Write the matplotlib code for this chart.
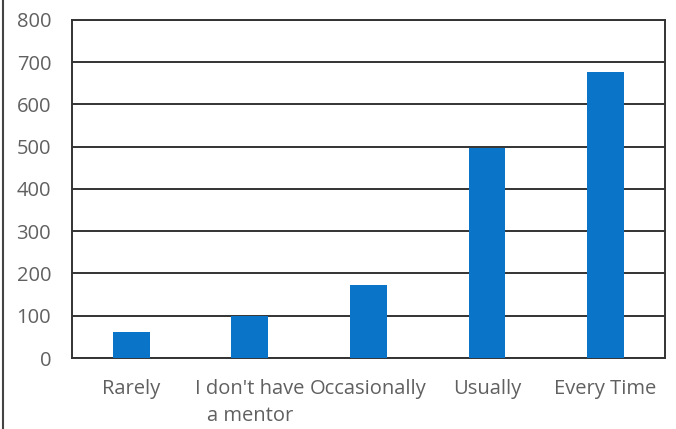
import matplotlib.pyplot as plt
import numpy as np

categories = ["Rarely", "I don't have\na mentor", "Occasionally", "Usually", "Every Time"]
counts = [62, 100, 172, 497, 676]
y_ticks = [0, 100, 200, 300, 400, 500, 600, 700, 800]

plt.rcParams['font.family'] = ['Open Sans', 'DejaVu Sans']

fig = plt.figure(figsize=(6.76, 4.29), dpi=100)
ax = fig.add_axes([0.1065, 0.1655, 0.877, 0.788])

x = np.arange(len(categories))
ax.bar(x, counts, width=0.31, color="#0a74c8", zorder=3)

ax.set_xlim(-0.5, len(categories) - 0.5)
ax.set_ylim(0, 800)
ax.set_yticks(y_ticks)
ax.set_xticks(x)
ax.set_xticklabels(categories, linespacing=1.5)

# dark horizontal gridlines, like the printed chart
ax.grid(axis="y", color="#333333", linewidth=1.4, zorder=0)
for side in ax.spines.values():
    side.set_color("#333333")
    side.set_linewidth(1.4)

ax.tick_params(axis="both", length=0, labelsize=14.5, labelcolor="#606060")
ax.tick_params(axis="y", pad=15)
ax.tick_params(axis="x", pad=15)

# outer chart frame edge on the left
fig.add_artist(plt.Line2D([0.005, 0.005], [0, 1], color="#444444", linewidth=1.5,
                          transform=fig.transFigure))

fig.savefig("out.png", dpi=100)
